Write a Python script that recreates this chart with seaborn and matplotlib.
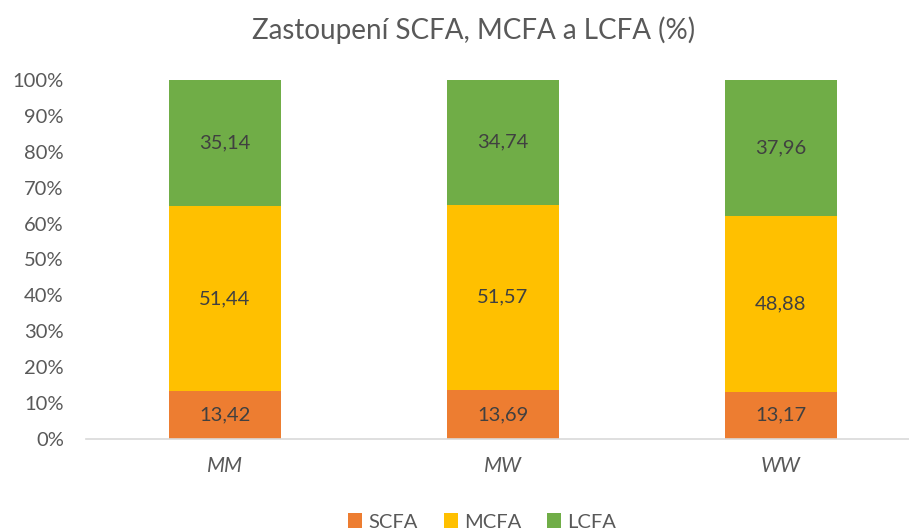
import numpy as np
import pandas as pd
import matplotlib
matplotlib.use("Agg")
import matplotlib.pyplot as plt
import seaborn as sns
from matplotlib.patches import Patch

# values
groups = ["MM", "MW", "WW"]
scfa = [13.42, 13.69, 13.17]
mcfa = [51.44, 51.57, 48.88]
lcfa = [35.14, 34.74, 37.96]
series_names = ["SCFA", "MCFA", "LCFA"]
colors = ["#ED7D31", "#FFC000", "#70AD47"]

sns.set_theme(style="white")
plt.rcParams["font.family"] = ["Lato", "DejaVu Sans"]

df = pd.DataFrame({"group": groups, "SCFA": scfa, "MCFA": mcfa, "LCFA": lcfa})
total = df[series_names].sum(axis=1)
pct = df[series_names].div(total, axis=0) * 100
cum = pct.cumsum(axis=1)

fig = plt.figure(figsize=(9.09, 5.32), dpi=100)
ax = fig.add_axes([86 / 909, 1 - 439 / 532, (909 - 86) / 909, (439 - 80) / 532])

# stacked bars drawn back to front with cumulative heights
for name, col in reversed(list(zip(series_names, colors))):
    sns.barplot(x=df["group"], y=cum[name], color=col, width=0.4,
                saturation=1, ax=ax, edgecolor="none")

# data labels in the middle of each segment
for i in range(len(groups)):
    prev = 0
    for name in series_names:
        top = cum.loc[i, name]
        ax.text(i, (prev + top) / 2, f"{df.loc[i, name]:.2f}".replace(".", ","),
                ha="center", va="center", fontsize=14.5, color="#404040")
        prev = top

ax.set_ylim(0, 100)
ax.set_xlim(-0.5, -0.5 + 823 / 278)
ax.set_yticks(range(0, 101, 10))
ax.set_yticklabels([f"{v}%" for v in range(0, 101, 10)], fontsize=14.5, color="#595959")
ax.set_xticks(range(len(groups)))
ax.set_xticklabels(groups, fontsize=15, color="#595959", style="italic")
ax.tick_params(axis="both", length=0)
ax.tick_params(axis="x", pad=12)
ax.tick_params(axis="y", pad=16)
ax.set_xlabel("")
ax.set_ylabel("")
for side in ["top", "right", "left"]:
    ax.spines[side].set_visible(False)
ax.spines["bottom"].set_color("#D9D9D9")
ax.spines["bottom"].set_linewidth(1.2)

fig.suptitle("Zastoupení SCFA, MCFA a LCFA (%)", x=474 / 909, y=1 - 30 / 532, va="center",
             fontsize=20, color="#595959")

handles = [Patch(facecolor=c, edgecolor="none") for c in colors]
fig.legend(handles, series_names, loc="center", bbox_to_anchor=(482 / 909, 1 - 522 / 532),
           ncol=3, frameon=False, fontsize=14.5, labelcolor="#595959",
           handlelength=0.7, handleheight=0.7, handletextpad=0.3, columnspacing=1.3)

fig.savefig("out.png", dpi=100)
